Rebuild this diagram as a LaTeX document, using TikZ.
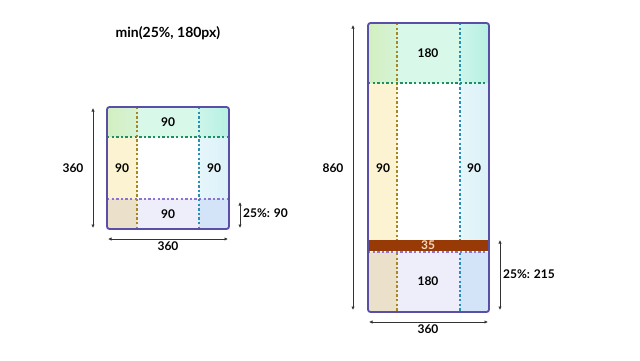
\documentclass[tikz,border=0pt]{standalone}
\usepackage{fontspec}
\setmainfont{Lato}
\usetikzlibrary{arrows.meta}
\definecolor{framec}{HTML}{5A4FA6}
\definecolor{tlA}{HTML}{D3EFC0}
\definecolor{tlB}{HTML}{D6F3D6}
\definecolor{tm}{HTML}{D8F8EA}
\definecolor{trA}{HTML}{CDF5EA}
\definecolor{trB}{HTML}{B6F0E2}
\definecolor{ml}{HTML}{FBF3D2}
\definecolor{mrA}{HTML}{E6F6FA}
\definecolor{mrB}{HTML}{DAF1F8}
\definecolor{bl}{HTML}{EBE0C9}
\definecolor{bm}{HTML}{EEEEFB}
\definecolor{brc}{HTML}{D3E4F9}
\definecolor{olive}{HTML}{A88620}
\definecolor{tealc}{HTML}{2890B4}
\definecolor{greenc}{HTML}{1F8E62}
\definecolor{purplec}{HTML}{8B72D4}
\definecolor{bandc}{HTML}{983A06}
\definecolor{bandt}{HTML}{F6D9BC}
\begin{document}
\begin{tikzpicture}[x=1pt,y=-1pt,
  font=\bfseries\fontsize{12}{14}\selectfont,
  lbl/.style={inner sep=0pt},
  dim/.style={{Latex[length=3.5pt,width=3.5pt]}-{Latex[length=3.5pt,width=3.5pt]}, line width=0.8pt, draw=black!80},
  frame/.style={draw=framec, line width=1.8pt, rounded corners=2.5pt},
  dots/.style={line width=2.8pt, dash pattern=on 2.4pt off 2.2pt}]
\useasboundingbox[fill=white] (0,0) rectangle (640,360);

\node[lbl, font=\bfseries\fontsize{14}{16}\selectfont] (title) at (168,33) {min(25\%, 180px)};

% ---------- left box ----------
\begin{scope}
\clip[rounded corners=2.5pt] (107,107) rectangle (229,229);
\shade[left color=tlA, right color=tlB] (107,107) rectangle (137,137);
\fill[tm] (137,107) rectangle (199,137);
\shade[left color=trA, right color=trB] (199,107) rectangle (229,137);
\fill[ml] (107,137) rectangle (137,199);
\shade[left color=mrA, right color=mrB] (199,137) rectangle (229,199);
\fill[bl] (107,199) rectangle (137,229);
\fill[bm] (137,199) rectangle (199,229);
\fill[brc] (199,199) rectangle (229,229);
\draw[dots, draw=greenc] (107,137) -- (229,137);
\draw[dots, draw=purplec] (107,199) -- (229,199);
\draw[dots, draw=olive] (137,107) -- (137,229);
\draw[dots, draw=tealc] (199,107) -- (199,229);
\end{scope}
\draw[frame] (107,107) rectangle (229,229);
\node[lbl] (a1) at (168,122) {90};
\node[lbl] (a2) at (122,168) {90};
\node[lbl] (a3) at (214,168) {90};
\node[lbl] (a4) at (168,214) {90};

\coordinate (lvt) at (93,108);
\coordinate (lvb) at (93,228);
\draw[dim] (lvt) -- (lvb);
\node[lbl] (lvl) at (73,168) {360};
\coordinate (lhl) at (108,239);
\coordinate (lhr) at (228,239);
\draw[dim] (lhl) -- (lhr);
\node[lbl] (lhlab) at (168,246.5) {360};
\coordinate (lrt) at (240,202);
\coordinate (lrb) at (240,228);
\draw[dim] (lrt) -- (lrb);
\node[lbl, anchor=west] (lrl) at (243,213) {25\%: 90};

% ---------- right box ----------
\begin{scope}
\clip[rounded corners=2.5pt] (368,23) rectangle (489,312);
\shade[left color=tlA, right color=tlB] (368,23) rectangle (397,83);
\fill[tm] (397,23) rectangle (460,83);
\shade[left color=trA, right color=trB] (460,23) rectangle (489,83);
\fill[ml] (368,83) rectangle (397,240);
\shade[left color=mrA, right color=mrB] (460,83) rectangle (489,240);
\fill[bl] (368,252) rectangle (397,312);
\fill[bm] (397,252) rectangle (460,312);
\fill[brc] (460,252) rectangle (489,312);
\draw[dots, draw=olive] (397,23) -- (397,312);
\draw[dots, draw=tealc] (460,23) -- (460,312);
\draw[dots, draw=greenc] (368,83) -- (489,83);
\fill[bandc] (368,240) rectangle (489,251);
\draw[dots, draw=purplec] (368,252) -- (489,252);
\end{scope}
\draw[frame] (368,23) rectangle (489,312);
\node[lbl] (b1) at (428,53) {180};
\node[lbl] (b2) at (383,168) {90};
\node[lbl] (b3) at (474,168) {90};
\node[lbl, text=bandt] (b4) at (428,245.5) {35};
\node[lbl] (b5) at (428,281) {180};

\coordinate (rvt) at (353,25);
\coordinate (rvb) at (353,310);
\draw[dim] (rvt) -- (rvb);
\node[lbl] (rvl) at (333,168) {860};
\coordinate (rhl) at (369,322);
\coordinate (rhr) at (488,322);
\draw[dim] (rhl) -- (rhr);
\node[lbl] (rhlab) at (428,329) {360};
\coordinate (rrt) at (500,240);
\coordinate (rrb) at (500,310);
\draw[dim] (rrt) -- (rrb);
\node[lbl, anchor=west] (rrl) at (503,274) {25\%: 215};
\end{tikzpicture}
\end{document}
